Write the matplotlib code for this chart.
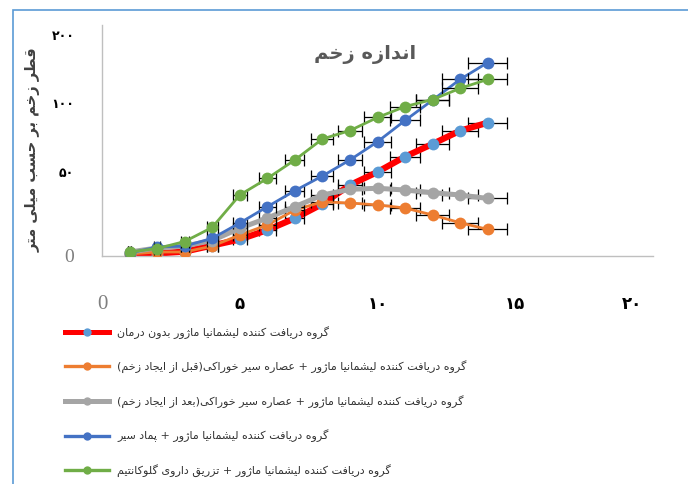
import numpy as np
import matplotlib
matplotlib.use("Agg")
import matplotlib.pyplot as plt
import matplotlib.transforms as mtransforms
from matplotlib.lines import Line2D
from matplotlib.patches import Rectangle

plt.rcParams["font.family"] = ["DejaVu Sans"]

# شکل‌دهی دستی حروف فارسی (matplotlib خودش اتصال حروف را انجام نمی‌دهد)
FORMS = {
    "ا": ("\uFE8D", "\uFE8E"),
    "ب": ("\uFE8F", "\uFE90", "\uFE91", "\uFE92"),
    "پ": ("\uFB56", "\uFB57", "\uFB58", "\uFB59"),
    "ت": ("\uFE95", "\uFE96", "\uFE97", "\uFE98"),
    "ج": ("\uFE9D", "\uFE9E", "\uFE9F", "\uFEA0"),
    "ح": ("\uFEA1", "\uFEA2", "\uFEA3", "\uFEA4"),
    "خ": ("\uFEA5", "\uFEA6", "\uFEA7", "\uFEA8"),
    "د": ("\uFEA9", "\uFEAA"),
    "ر": ("\uFEAD", "\uFEAE"),
    "ز": ("\uFEAF", "\uFEB0"),
    "ژ": ("\uFB8A", "\uFB8B"),
    "س": ("\uFEB1", "\uFEB2", "\uFEB3", "\uFEB4"),
    "ش": ("\uFEB5", "\uFEB6", "\uFEB7", "\uFEB8"),
    "ص": ("\uFEB9", "\uFEBA", "\uFEBB", "\uFEBC"),
    "ط": ("\uFEC1", "\uFEC2", "\uFEC3", "\uFEC4"),
    "ع": ("\uFEC9", "\uFECA", "\uFECB", "\uFECC"),
    "ف": ("\uFED1", "\uFED2", "\uFED3", "\uFED4"),
    "ق": ("\uFED5", "\uFED6", "\uFED7", "\uFED8"),
    "ک": ("\uFB8E", "\uFB8F", "\uFB90", "\uFB91"),
    "گ": ("\uFB92", "\uFB93", "\uFB94", "\uFB95"),
    "ل": ("\uFEDD", "\uFEDE", "\uFEDF", "\uFEE0"),
    "م": ("\uFEE1", "\uFEE2", "\uFEE3", "\uFEE4"),
    "ن": ("\uFEE5", "\uFEE6", "\uFEE7", "\uFEE8"),
    "ه": ("\uFEE9", "\uFEEA", "\uFEEB", "\uFEEC"),
    "و": ("\uFEED", "\uFEEE"),
    "ی": ("\uFBFC", "\uFBFD", "\uFBFE", "\uFBFF"),
}


def fa(text):
    chars = list(text)
    out = []
    for i, ch in enumerate(chars):
        if ch not in FORMS:
            out.append(ch)
            continue
        prev = chars[i - 1] if i > 0 else ""
        nxt = chars[i + 1] if i + 1 < len(chars) else ""
        f = FORMS[ch]
        jp = prev in FORMS and len(FORMS[prev]) == 4
        jn = len(f) == 4 and nxt in FORMS
        if jp and jn:
            out.append(f[3])
        elif jp:
            out.append(f[1])
        elif jn:
            out.append(f[2])
        else:
            out.append(f[0])
    return "".join(reversed(out)).translate(str.maketrans("()", ")("))


# داده‌ها (خوانده‌شده از تصویر)
days = [1, 2, 3, 4, 5, 6, 7, 8, 9, 10, 11, 12, 13, 14]
err_x = [0.05, 0.1, 0.15, 0.2, 0.25, 0.3, 0.35, 0.4, 0.45, 0.5, 0.55, 0.6, 0.65, 0.7]

untreated = [0.7, 1.8, 3.2, 7.6, 12.0, 18.8, 27.3, 37.7, 51.4, 60.9, 72.0, 81.2, 90.8, 96.6]
garlic_before = [1.4, 2.9, 2.9, 7.2, 15.2, 22.5, 33.3, 39.3, 38.4, 37.0, 34.8, 29.7, 24.1, 19.3]
garlic_after = [2.9, 5.8, 7.2, 11.2, 20.1, 27.5, 35.7, 44.2, 48.3, 49.1, 47.8, 45.9, 44.2, 41.7]
garlic_cream = [2.2, 6.5, 7.2, 12.8, 23.9, 35.7, 47.3, 58.0, 69.6, 82.8, 98.2, 113.0, 128.0, 140.2]
glucantime = [2.9, 5.4, 10.5, 20.7, 44.2, 56.2, 69.6, 84.8, 90.9, 100.4, 108.3, 113.4, 121.5, 128.0]

labels = [
    "گروه دریافت کننده لیشمانیا ماژور بدون درمان",
    "گروه دریافت کننده لیشمانیا ماژور + عصاره سیر خوراکی(قبل از ایجاد زخم)",
    "گروه دریافت کننده لیشمانیا ماژور + عصاره سیر خوراکی(بعد از ایجاد زخم)",
    "گروه دریافت کننده لیشمانیا ماژور + پماد سیر",
    "گروه دریافت کننده لیشمانیا ماژور + تزریق داروی گلوکانتیم",
]

series = [untreated, garlic_before, garlic_after, garlic_cream, glucantime]
line_colors = ["#FF0000", "#ED7D31", "#A5A5A5", "#4472C4", "#70AD47"]
marker_colors = ["#5B9BD5", "#ED7D31", "#A5A5A5", "#4472C4", "#70AD47"]
line_widths = [4.5, 2.0, 3.6, 2.0, 2.0]

y_ticks = [0, 60.9, 110.9, 160.1]
y_ticklabels = ["0", "۵۰", "۱۰۰", "۲۰۰"]
x_ticks = [0, 5, 10, 15, 20]
x_ticklabels = ["0", "۵", "۱۰", "۱۵", "۲۰"]

fig = plt.figure(figsize=(6.88, 4.84), dpi=100)
ax = fig.add_axes([102 / 688, 1 - 256 / 484, 551 / 688, 231 / 484])

for i, (vals, lc, mc, lw) in enumerate(zip(series, line_colors, marker_colors, line_widths)):
    ax.errorbar(days, vals, xerr=err_x, fmt="none", ecolor="black",
                elinewidth=0.9, capsize=4.5, capthick=0.9, zorder=1.5 + i)
    ax.plot(days, vals, color=lc, lw=lw, marker="o", ms=8.5,
            mfc=mc, mec=mc, mew=0, zorder=2 + i)

ax.set_xlim(0, 20)
ax.set_ylim(0, 167.4)
ax.set_xticks(x_ticks)
ax.set_xticklabels(x_ticklabels)
ax.set_yticks(y_ticks)
ax.set_yticklabels(y_ticklabels)
ax.tick_params(length=0)
ax.tick_params(axis="x", pad=28)
ax.tick_params(axis="y", pad=20)

for lab in ax.get_xticklabels():
    if lab.get_text() == "0":
        lab.set_fontfamily("Liberation Serif")
        lab.set_fontsize(15)
        lab.set_color("#7F7F7F")
    else:
        lab.set_fontsize(12)
        lab.set_fontweight("bold")
        lab.set_color("black")
for lab in ax.get_yticklabels():
    if lab.get_text() == "0":
        lab.set_fontfamily("Liberation Serif")
        lab.set_fontsize(14)
        lab.set_color("#7F7F7F")
    else:
        lab.set_fontsize(9)
        lab.set_fontweight("bold")
        lab.set_color("black")

# برچسب ۲۰ در شکل اصلی کمی به چپ رفته است
shift = mtransforms.ScaledTranslation(-0.21, 0, fig.dpi_scale_trans)
last = ax.xaxis.get_major_ticks()[-1].label1
last.set_transform(last.get_transform() + shift)

for s in ["top", "right"]:
    ax.spines[s].set_visible(False)
for s in ["left", "bottom"]:
    ax.spines[s].set_color("#BFBFBF")
    ax.spines[s].set_linewidth(1.0)

fig.text(365 / 688, 1 - 54 / 484, fa("اندازه زخم"), ha="center", va="center",
         fontsize=14, fontweight="bold", color="#595959")
fig.text(33 / 688, 1 - 150 / 484, fa("قطر زخم بر حسب میلی متر"), rotation=90,
         ha="center", va="center", fontsize=10.5, fontweight="bold", color="#404040")

handles = [
    Line2D([], [], color=lc, lw=(3.6 if i in (0, 2) else 2.4), marker="o", ms=6,
           mfc=mc, mec=mc, mew=0)
    for i, (lc, mc) in enumerate(zip(line_colors, marker_colors))
]
fig.legend(handles, [fa(t) for t in labels], loc="upper left",
           bbox_to_anchor=(65 / 688, 1 - 326 / 484), frameon=False,
           fontsize=8, labelspacing=1.95, handlelength=4.0, handletextpad=0.7,
           borderpad=0, borderaxespad=0, labelcolor="#333333")

fig.add_artist(Rectangle((13 / 688, -0.1), 1.2, 0.1 + 1 - 10 / 484,
                         transform=fig.transFigure, fill=False,
                         edgecolor="#5B9BD5", lw=1.2, clip_on=False))

fig.savefig("out.png", dpi=100)
